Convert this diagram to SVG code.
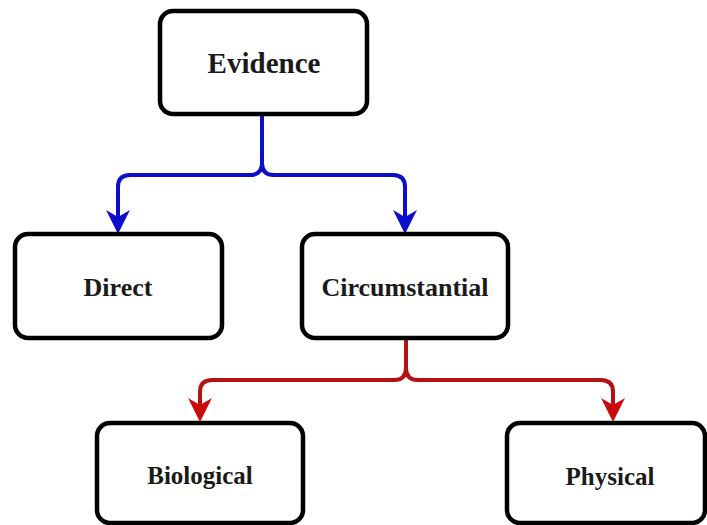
<svg xmlns="http://www.w3.org/2000/svg" width="707" height="525" viewBox="0 0 707 525">
<style>
.box{fill:#fff;stroke:#000;stroke-width:4.5}
.lbl{font-family:"Liberation Serif","Times New Roman",serif;font-weight:bold;fill:#1a1a1a;text-anchor:middle}
.blue{fill:none;stroke:#0d0dcc;stroke-width:4}
.red{fill:none;stroke:#b31212;stroke-width:4}
</style>
<defs>
<marker id="ab" viewBox="0 0 24 24" refX="8" refY="12" markerWidth="24" markerHeight="24" markerUnits="userSpaceOnUse" orient="auto">
<path d="M0,0 L24,12 L0,24 L7,12 z" fill="#0d0dcc"/>
</marker>
<marker id="ar" viewBox="0 0 24 24" refX="8" refY="12" markerWidth="24" markerHeight="24" markerUnits="userSpaceOnUse" orient="auto">
<path d="M0,0 L24,12 L0,24 L7,12 z" fill="#cc0a0a"/>
</marker>
</defs>
<rect width="707" height="525" fill="#fff"/>
<g id="connectors">
<path class="blue" d="M262,115 V163 Q262,175 250,175 H130 Q118,175 118,187 V218" marker-end="url(#ab)"/>
<path class="blue" d="M262,163 Q262,175 274,175 H393 Q405,175 405,187 V218" marker-end="url(#ab)"/>
<path class="red" d="M406,338 V368 Q406,380 394,380 H212 Q200,380 200,392 V406" marker-end="url(#ar)"/>
<path class="red" d="M406,368 Q406,380 418,380 H601 Q613,380 613,392 V406" marker-end="url(#ar)"/>
</g>
<g id="evidence">
<rect class="box" x="160" y="11" width="207" height="103" rx="13"/>
<text class="lbl" x="264" y="73" font-size="29">Evidence</text>
</g>
<g id="direct">
<rect class="box" x="15" y="234" width="207" height="104" rx="13"/>
<text class="lbl" x="118" y="296" font-size="26">Direct</text>
</g>
<g id="circumstantial">
<rect class="box" x="302" y="234" width="206" height="104" rx="13"/>
<text class="lbl" x="405" y="296" font-size="26">Circumstantial</text>
</g>
<g id="biological">
<rect class="box" x="97" y="423" width="206" height="100" rx="13"/>
<text class="lbl" x="200" y="484" font-size="25">Biological</text>
</g>
<g id="physical">
<rect class="box" x="507" y="423" width="198" height="100" rx="13"/>
<text class="lbl" x="610" y="485" font-size="25">Physical</text>
</g>
</svg>
